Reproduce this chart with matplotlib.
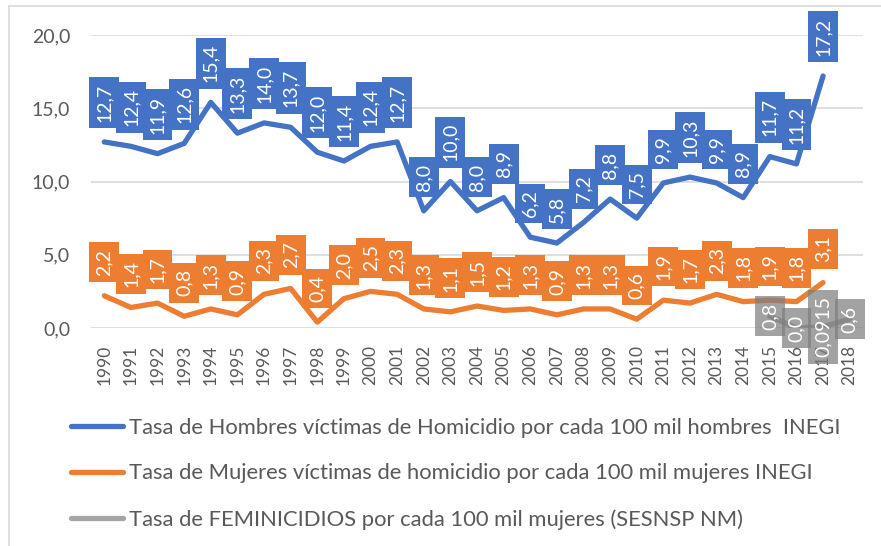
import matplotlib.pyplot as plt
import matplotlib.patches as mpatches

plt.rcParams['font.family'] = ['Lato', 'DejaVu Sans']

years = [str(y) for y in range(1990, 2019)]

# tasa de hombres victimas de homicidio (INEGI), 1990-2017
hombres = [12.7, 12.4, 11.9, 12.6, 15.4, 13.3, 14.0, 13.7, 12.0, 11.4,
           12.4, 12.7, 8.0, 10.0, 8.0, 8.9, 6.2, 5.8, 7.2, 8.8,
           7.5, 9.9, 10.3, 9.9, 8.9, 11.7, 11.2, 17.2]
# tasa de mujeres victimas de homicidio (INEGI), 1990-2017
mujeres = [2.2, 1.4, 1.7, 0.8, 1.3, 0.9, 2.3, 2.7, 0.4, 2.0,
           2.5, 2.3, 1.3, 1.1, 1.5, 1.2, 1.3, 0.9, 1.3, 1.3,
           0.6, 1.9, 1.7, 2.3, 1.8, 1.9, 1.8, 3.1]
# feminicidios (SESNSP), 2015-2018
fem_years = ['2015', '2016', '2017', '2018']
feminicidios = [0.8, 0.0, 0.0915, 0.6]

labels = ["Tasa de Hombres víctimas de Homicidio por cada 100 mil hombres  INEGI",
          "Tasa de Mujeres víctimas de homicidio por cada 100 mil mujeres INEGI",
          "Tasa de FEMINICIDIOS por cada 100 mil mujeres (SESNSP NM)"]

BLUE = '#4472C4'
ORANGE = '#ED7D31'
GRAY = '#A5A5A5'
TXT = '#595959'


def lab(v):
    return f"{v:.1f}".replace('.', ',')


fig = plt.figure(figsize=(8.81, 5.46), dpi=100)
fig.patches.append(mpatches.Rectangle((9 / 881, -0.1), 1.2, 1 - 6 / 546 + 0.1,
                                      transform=fig.transFigure, fill=False,
                                      edgecolor='#d9d9d9', lw=1.2))
ax = fig.add_axes([91 / 881, 1 - 328 / 546, (863 - 91) / 881, (328 - 35) / 546])

xh = [years.index(str(1990 + i)) for i in range(len(hombres))]
xf = [years.index(y) for y in fem_years]

l1, = ax.plot(xh, hombres, color=BLUE, lw=3.8, solid_capstyle='round', solid_joinstyle='round', zorder=3)
l2, = ax.plot(xh, mujeres, color=ORANGE, lw=3.8, solid_capstyle='round', solid_joinstyle='round', zorder=3)
l3, = ax.plot(xf, feminicidios, color=GRAY, lw=3.8, solid_capstyle='round', solid_joinstyle='round', zorder=3)

for x, v in zip(xh, hombres):
    ax.annotate(lab(v), (x, v), xytext=(0, 14.5), textcoords='offset points',
                rotation=90, ha='center', va='bottom', color='white', fontsize=14,
                bbox=dict(boxstyle='square,pad=0.33', fc=BLUE, ec='none'),
                zorder=5, annotation_clip=False)
for x, v in zip(xh, mujeres):
    ax.annotate(lab(v), (x, v), xytext=(0, 14.5), textcoords='offset points',
                rotation=90, ha='center', va='bottom', color='white', fontsize=14,
                bbox=dict(boxstyle='square,pad=0.33', fc=ORANGE, ec='none'),
                zorder=5, annotation_clip=False)
for x, v in zip(xf, feminicidios):
    ax.annotate(str(v).replace('.', ','), (x, v), rotation=90, ha='center', va='center',
                color='white', fontsize=14,
                bbox=dict(boxstyle='square,pad=0.33', fc='#7F7F7F', ec='none', alpha=0.72),
                zorder=6, annotation_clip=False)

ax.set_xlim(-0.5, len(years) - 0.5)
ax.set_ylim(0, 20)
ax.set_yticks([0, 5, 10, 15, 20])
ax.set_yticklabels([lab(v) for v in [0, 5, 10, 15, 20]])
ax.set_xticks(range(len(years)))
ax.set_xticklabels(years, rotation=90)
ax.tick_params(axis='y', length=0, pad=15, labelsize=14, labelcolor=TXT)
ax.tick_params(axis='x', length=0, pad=12, labelsize=12.5, labelcolor=TXT)
ax.grid(axis='y', color='#d9d9d9', lw=1.2)
ax.set_axisbelow(True)
for s in ax.spines.values():
    s.set_visible(False)

fig.legend([l1, l2, l3], labels, loc='upper left', bbox_to_anchor=(62 / 881, 1 - 409 / 546),
           frameon=False, fontsize=15.8, labelcolor=TXT, handlelength=2.4,
           handletextpad=0.25, labelspacing=1.17, borderaxespad=0)

fig.savefig('out.png', dpi=100)
